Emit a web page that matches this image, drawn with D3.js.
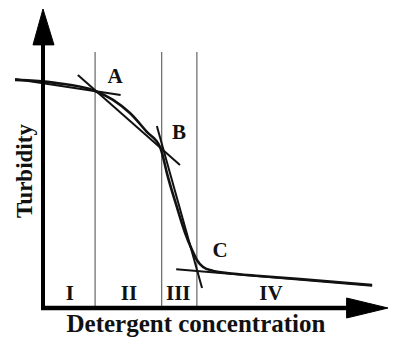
<!DOCTYPE html>
<html lang="en">
<head>
    <meta charset="utf-8" />
    <title>Turbidity vs detergent concentration</title>
    <script src="https://d3js.org/d3.v7.min.js"></script>
    <style>
        body { margin: 0; background: #fff; }
        text { font-family: "Liberation Serif", "Times New Roman", serif; font-weight: bold; fill: #111; }
    </style>
</head>
<body>
<script>
    // turbidity curve (arbitrary units, 0..100 on both axes)
    var curveX = [-8.1, 3.5, 15.1, 20.3, 25.2, 30.1, 33.9, 34.5, 35.9, 38.8, 41.2, 43.2, 44.6, 46.4, 49.3, 53.3, 62.9, 74.5, 95.4];
    var curveY = [76.3, 75.3, 72.6, 69.6, 65.2, 58.9, 53.9, 51.8, 45.2, 33.8, 25.1, 19.4, 16.1, 13.7, 12.4, 11.7, 10.7, 9.7, 7.7];

    // tangent lines [x1, y1, x2, y2]
    var tangents = [
        [-8.1, 76.6, 22.5, 71.2],
        [10.1, 77.9, 39.7, 47.8],
        [33.0, 60.9, 46.1, 6.7],
        [38.6, 13.0, 95.4, 7.4]
    ];

    // phase boundaries
    var bounds = [15.1, 34.4, 44.6];
    var boundTop = 85.6;

    var regionNames = ["I", "II", "III", "IV"];
    var regionX = [7.8, 24.9, 39.2, 66.1];

    var pointNames = ["A", "B", "C"];
    var pointX = [20.9, 39.4, 51.3];
    var pointY = [75.3, 56.5, 17.1];

    var width = 400, height = 351;

    var svg = d3.select("body").append("svg")
        .attr("width", width)
        .attr("height", height);

    var x = d3.scaleLinear().domain([0, 100]).range([43, 388]);
    var y = d3.scaleLinear().domain([0, 100]).range([308, 9]);

    // region boundaries
    svg.append("g").selectAll("line")
        .data(bounds)
        .enter().append("line")
        .attr("x1", function (d) { return x(d); })
        .attr("x2", function (d) { return x(d); })
        .attr("y1", y(boundTop))
        .attr("y2", y(0))
        .attr("stroke", "#666")
        .attr("stroke-width", 1.2);

    // tangents
    svg.append("g").selectAll("line")
        .data(tangents)
        .enter().append("line")
        .attr("x1", function (d) { return x(d[0]); })
        .attr("y1", function (d) { return y(d[1]); })
        .attr("x2", function (d) { return x(d[2]); })
        .attr("y2", function (d) { return y(d[3]); })
        .attr("stroke", "#111")
        .attr("stroke-width", 2);

    // curve
    var pts = curveX.map(function (d, i) { return [d, curveY[i]]; });
    var line = d3.line()
        .x(function (d) { return x(d[0]); })
        .y(function (d) { return y(d[1]); })
        .curve(d3.curveMonotoneX);

    svg.append("path")
        .datum(pts)
        .attr("d", line)
        .attr("fill", "none")
        .attr("stroke", "#111")
        .attr("stroke-width", 2.6);

    // axes with arrow heads
    var ax = svg.append("g");
    ax.append("line")
        .attr("x1", x(0)).attr("y1", y(0))
        .attr("x2", x(0)).attr("y2", y(88))
        .attr("stroke", "#000").attr("stroke-width", 4);
    ax.append("path")
        .attr("d", "M" + (x(0) - 10) + "," + y(88) + "L" + x(0) + "," + y(100) + "L" + (x(0) + 11) + "," + y(88) + "Z")
        .attr("fill", "#000").attr("stroke", "#000").attr("stroke-width", 1).attr("stroke-linejoin", "round");
    ax.append("line")
        .attr("x1", x(0) - 2).attr("y1", y(0))
        .attr("x2", x(88)).attr("y2", y(0))
        .attr("stroke", "#000").attr("stroke-width", 4.5);
    ax.append("path")
        .attr("d", "M" + x(88) + "," + (y(0) - 10) + "L" + x(100) + "," + y(0) + "L" + x(88) + "," + (y(0) + 10) + "Z")
        .attr("fill", "#000").attr("stroke", "#000").attr("stroke-width", 1).attr("stroke-linejoin", "round");

    // region labels
    svg.append("g").selectAll("text")
        .data(regionNames)
        .enter().append("text")
        .attr("x", function (d, i) { return x(regionX[i]); })
        .attr("y", 300)
        .attr("text-anchor", "middle")
        .attr("font-size", 21)
        .text(function (d) { return d; });

    // point labels
    svg.append("g").selectAll("text")
        .data(pointNames)
        .enter().append("text")
        .attr("x", function (d, i) { return x(pointX[i]); })
        .attr("y", function (d, i) { return y(pointY[i]); })
        .attr("text-anchor", "middle")
        .attr("font-size", 21)
        .text(function (d) { return d; });

    // axis titles
    svg.append("text")
        .attr("x", 196)
        .attr("y", 332)
        .attr("text-anchor", "middle")
        .attr("font-size", 25)
        .text("Detergent concentration");

    svg.append("text")
        .attr("transform", "translate(32,171) rotate(-90)")
        .attr("text-anchor", "middle")
        .attr("font-size", 23)
        .text("Turbidity");
</script>
</body>
</html>
